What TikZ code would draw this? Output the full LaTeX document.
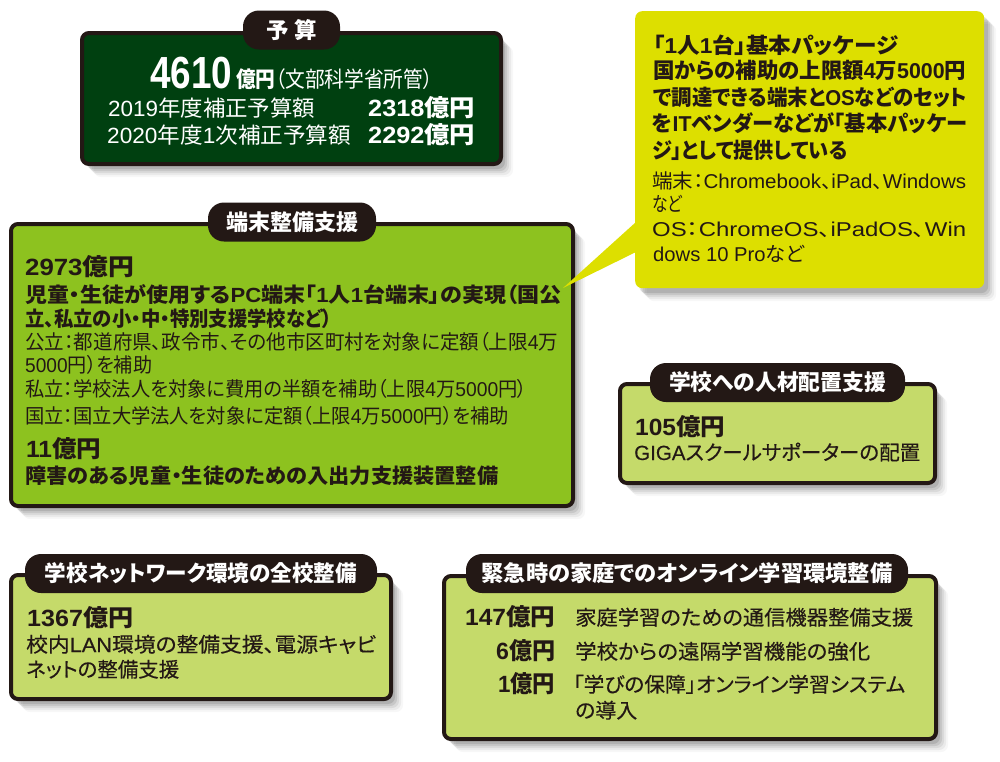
\documentclass[tikz,border=0pt]{standalone}
\usepackage{graphicx}
\usepackage{fontspec}
\setmainfont[RawFeature=+palt]{Noto Sans CJK JP}
\newfontfamily\medfont[RawFeature=+palt,FakeBold=0.35]{Noto Sans CJK JP}
\newfontfamily\latfont{Liberation Sans}
\newfontfamily\latmedfont[FakeBold=0.35]{Liberation Sans}
\usetikzlibrary{shadows}
\definecolor{ink}{HTML}{231815}
\definecolor{budgetgreen}{HTML}{004010}
\definecolor{maingreen}{HTML}{8DC21F}
\definecolor{palegreen}{HTML}{C5DA6A}
\definecolor{callout}{HTML}{DDDF00}
\newcommand{\lat}[1]{{\latfont #1}}
\newcommand{\latm}[1]{{\latmedfont #1}}
\newcommand{\fitline}[2]{\resizebox{#1pt}{\height}{#2}}
\tikzset{softshadow/.style={
	drop shadow={shadow xshift=4pt,shadow yshift=-5pt,fill=black,opacity=.10},
	drop shadow={shadow xshift=6pt,shadow yshift=-7pt,fill=black,opacity=.09},
	drop shadow={shadow xshift=8pt,shadow yshift=-9pt,fill=black,opacity=.07},
	drop shadow={shadow xshift=10pt,shadow yshift=-11pt,fill=black,opacity=.05},
	drop shadow={shadow xshift=12pt,shadow yshift=-13pt,fill=black,opacity=.03}}}
\tikzset{panel/.style={rectangle, rounded corners=7pt, draw=ink, line width=4pt, anchor=north west, softshadow, inner sep=0pt}}
\tikzset{pill/.style={rectangle, rounded corners=16pt, fill=ink, text=white, inner sep=0pt, minimum height=39pt, font=\bfseries\fontsize{22}{22}\selectfont}}
\tikzset{boldline/.style={anchor=base west, inner sep=0pt, text=ink, font=\bfseries\fontsize{20.5}{21}\selectfont}}
\tikzset{calloutline/.style={boldline, font=\bfseries\fontsize{21.5}{22}\selectfont}}
\tikzset{medline/.style={anchor=base west, inner sep=0pt, text=ink, font=\medfont\fontsize{20.5}{21}\selectfont}}
\tikzset{thinline/.style={anchor=base west, inner sep=0pt, text=ink, font=\fontsize{20}{21}\selectfont}}
\tikzset{amount/.style={anchor=base west, inner sep=0pt, text=ink, font=\bfseries\fontsize{23.5}{24}\selectfont}}
\begin{document}
\begin{tikzpicture}[x=1pt,y=-1pt]
	\useasboundingbox (0,0) rectangle (1000,761);
	% budget
	\node (budget) [panel, fill=budgetgreen, minimum width=419pt, minimum height=131pt] at (80,31) {};
	\node (budgetpill) [pill, minimum width=97pt] at (291.5,30) {\fitline{50}{予 算}};
	\node (total) [amount, text=white, font=\latfont\bfseries\fontsize{45}{45}\selectfont] at (150,88) {\fitline{82}{4610}};
	\node (totalunit) [thinline, text=white, font=\fontsize{22}{22}\selectfont] at (236,87) {\fitline{197}{\textbf{億円}（文部科学省所管）}};
	\node (fy2019) [thinline, text=white, font=\fontsize{22}{22}\selectfont] at (108,116) {\fitline{207}{\lat{2019}年度補正予算額}};
	\node (fy2019sum) [amount, text=white] at (368,116) {\fitline{107}{\lat{2318}億円}};
	\node (fy2020) [thinline, text=white, font=\fontsize{22}{22}\selectfont] at (107,143) {\fitline{244}{\lat{2020}年度\lat{1}次補正予算額}};
	\node (fy2020sum) [amount, text=white] at (368,143) {\fitline{107}{\lat{2292}億円}};

	% devices
	\node (devices) [panel, fill=maingreen, minimum width=562pt, minimum height=282pt] at (9,222) {};
	\node (devicespill) [pill, minimum width=168pt] at (292,222) {\fitline{132}{端末整備支援}};
	\node (devsum) [amount] at (25,275) {\fitline{109}{\lat{2973}億円}};
	\node (devlinea) [boldline] at (25,302) {\fitline{536}{児童・生徒が使用する\lat{PC}端末「\lat{1}人\lat{1}台端末」の実現（国公}};
	\node (devlineb) [boldline] at (25,326) {\fitline{307}{立、私立の小・中・特別支援学校など）}};
	\node (devlinec) [thinline] at (25,349) {\fitline{533}{公立：都道府県、政令市、その他市区町村を対象に定額（上限\lat{4}万}};
	\node (devlined) [thinline] at (25,372) {\fitline{127}{\lat{5000}円）を補助}};
	\node (devlinee) [thinline] at (25,396) {\fitline{502}{私立：学校法人を対象に費用の半額を補助（上限\lat{4}万\lat{5000}円）}};
	\node (devlinef) [thinline] at (25,423) {\fitline{484}{国立：国立大学法人を対象に定額（上限\lat{4}万\lat{5000}円）を補助}};
	\node (aidsum) [amount] at (26,457) {\fitline{75}{\lat{11}億円}};
	\node (aidline) [boldline] at (25,483) {\fitline{473}{障害のある児童・生徒のための入出力支援装置整備}};

	% package callout
	\node (package) [rectangle, rounded corners=7pt, fill=callout, anchor=north west, softshadow, inner sep=0pt, minimum width=349pt, minimum height=277pt] at (635,11) {};
	\coordinate (tailtip) at (563,288);
	\coordinate (tailtop) at (636,222);
	\coordinate (tailend) at (636,252);
	\fill [callout] (tailtop) -- (tailtip) -- (tailend) -- cycle;
	\node (pkgtitle) [calloutline] at (653,53) {\fitline{245}{「\lat{1}人\lat{1}台」基本パッケージ}};
	\node (pkga) [calloutline] at (653,78) {\fitline{313}{国からの補助の上限額\lat{4}万\lat{5000}円}};
	\node (pkgb) [calloutline] at (653,105) {\fitline{314}{で調達できる端末と\lat{OS}などのセット}};
	\node (pkgc) [calloutline] at (652,131) {\fitline{315}{を\lat{IT}ベンダーなどが「基本パッケー}};
	\node (pkgd) [calloutline] at (652,158) {\fitline{195}{ジ」として提供している}};
	\node (pkge) [thinline] at (652,188) {\fitline{314}{端末：\lat{Chromebook}、\lat{iPad}、\lat{Windows}}};
	\node (pkgf) [thinline] at (652,211) {\fitline{30}{など}};
	\node (pkgg) [thinline] at (652,236) {\fitline{314}{\lat{OS}：\lat{ChromeOS}、\lat{iPadOS}、\lat{Win}}};
	\node (pkgh) [thinline] at (653,261) {\fitline{151}{\lat{dows 10 Pro}など}};

	% staff
	\node (staff) [panel, fill=palegreen, minimum width=315pt, minimum height=99pt] at (618,382) {};
	\node (staffpill) [pill, minimum width=255pt] at (777.5,382.5) {\fitline{217}{学校への人材配置支援}};
	\node (staffsum) [amount] at (635,435) {\fitline{90}{\lat{105}億円}};
	\node (staffline) [medline] at (634,460) {\fitline{286}{\latm{GIGA}スクールサポーターの配置}};

	% network
	\node (network) [panel, fill=palegreen, minimum width=380pt, minimum height=124pt] at (9,573) {};
	\node (networkpill) [pill, minimum width=352pt] at (201,573.5) {\fitline{312}{学校ネットワーク環境の全校整備}};
	\node (netsum) [amount] at (27,626) {\fitline{106}{\lat{1367}億円}};
	\node (netlinea) [medline] at (26,652) {\fitline{350}{校内\latm{LAN}環境の整備支援、電源キャビ}};
	\node (netlineb) [medline] at (26,677) {\fitline{153}{ネットの整備支援}};

	% home learning
	\node (home) [panel, fill=palegreen, minimum width=492pt, minimum height=163pt] at (442,574) {};
	\node (homepill) [pill, minimum width=442pt] at (687,573.5) {\fitline{411}{緊急時の家庭でのオンライン学習環境整備}};
	\node (homesuma) [amount] at (465,625) {\fitline{90}{\lat{147}億円}};
	\node (homelinea) [medline] at (575,625) {\fitline{338}{家庭学習のための通信機器整備支援}};
	\node (homesumb) [amount] at (496,659) {\fitline{59}{\lat{6}億円}};
	\node (homelineb) [medline] at (575,659) {\fitline{295}{学校からの遠隔学習機能の強化}};
	\node (homesumc) [amount] at (498,692) {\fitline{57}{\lat{1}億円}};
	\node (homelinec) [medline] at (573,692) {\fitline{332}{「学びの保障」オンライン学習システム}};
	\node (homelined) [medline] at (575,718) {\fitline{62}{の導入}};
\end{tikzpicture}
\end{document}
